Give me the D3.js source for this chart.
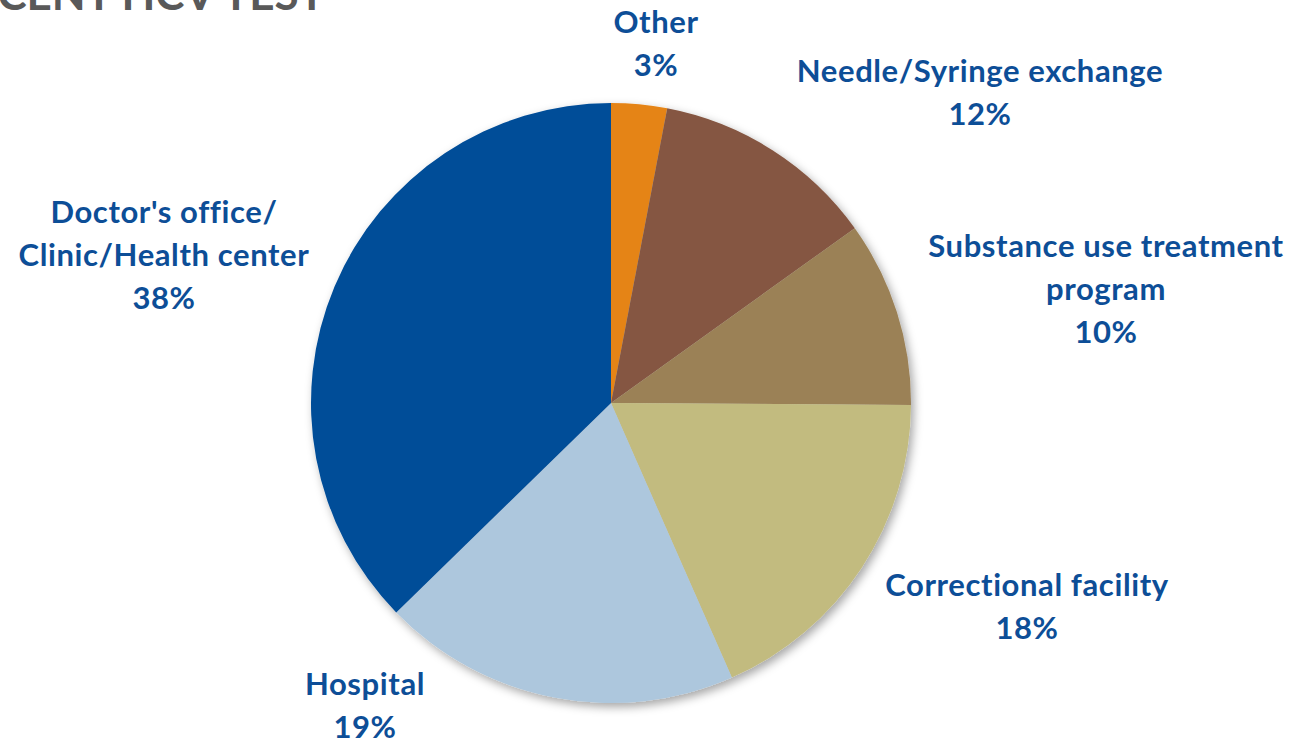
<!DOCTYPE html>
<html>
<head>
<meta charset="utf-8">
<script src="https://cdn.jsdelivr.net/npm/d3@7"></script>
<style>
  body { margin: 0; background: #fff; }
  svg { display: block; }
  text { font-family: Lato, "Open Sans", sans-serif; font-weight: bold; }
</style>
</head>
<body>
<div id="plot"></div>
<script>
// slice order: clockwise from 12 o'clock
var categories = ["Other", "Needle/Syringe exchange", "Substance use treatment program",
                  "Correctional facility", "Hospital", "Doctor's office/Clinic/Health center"];
var values = [3.0, 12.1, 10.0, 18.3, 19.3, 37.3];
var pctLabels = ["3%", "12%", "10%", "18%", "19%", "38%"];
var labelLines = [["Other"], ["Needle/Syringe exchange"], ["Substance use treatment", "program"],
                  ["Correctional facility"], ["Hospital"], ["Doctor's office/", "Clinic/Health center"]];
var colors = ["#E58417", "#855742", "#9B8157", "#C2BB7F", "#ADC7DD", "#024D98"];
var title = "MOST RECENT HCV TEST";

var width = 1299, height = 741;
var cx = 611, cy = 403, radius = 300;

var svg = d3.select("#plot").append("svg")
	.attr("width", width)
	.attr("height", height);

var defs = svg.append("defs");
var f = defs.append("filter").attr("id", "shadow")
	.attr("x", "-10%").attr("y", "-10%").attr("width", "120%").attr("height", "120%");
f.append("feDropShadow")
	.attr("dx", 3).attr("dy", 4)
	.attr("stdDeviation", 5)
	.attr("flood-color", "#000")
	.attr("flood-opacity", 0.35);

// title, clipped by the top of the page
svg.append("text")
	.attr("x", 325)
	.attr("y", 10)
	.attr("text-anchor", "end")
	.style("font-size", "44px")
	.style("fill", "#595959")
	.text(title);

var pie = d3.pie().sort(null).value(function(d) { return d; });
var arc = d3.arc().innerRadius(0).outerRadius(radius);

var g = svg.append("g")
	.attr("transform", "translate(" + cx + "," + cy + ")");

g.append("g")
	.attr("filter", "url(#shadow)")
	.selectAll("path")
	.data(pie(values))
	.enter().append("path")
	.attr("d", arc)
	.style("fill", function(d, i) { return colors[i]; });

// label anchor points (centre x, first baseline)
var labelPos = [[656, 33], [980, 82], [1106, 257], [1027, 596], [365, 695], [164, 223]];
var lineH = 43;

var labels = svg.append("g").selectAll("text")
	.data(categories)
	.enter().append("text")
	.attr("text-anchor", "middle")
	.style("font-size", "31px")
	.style("letter-spacing", "0.6px")
	.style("fill", "#0D4E97");

labels.each(function(d, i) {
	var t = d3.select(this);
	var lines = labelLines[i].concat([pctLabels[i]]);
	lines.forEach(function(s, j) {
		t.append("tspan")
			.attr("x", labelPos[i][0])
			.attr("y", labelPos[i][1] + j * lineH)
			.text(s);
	});
});
</script>
</body>
</html>
